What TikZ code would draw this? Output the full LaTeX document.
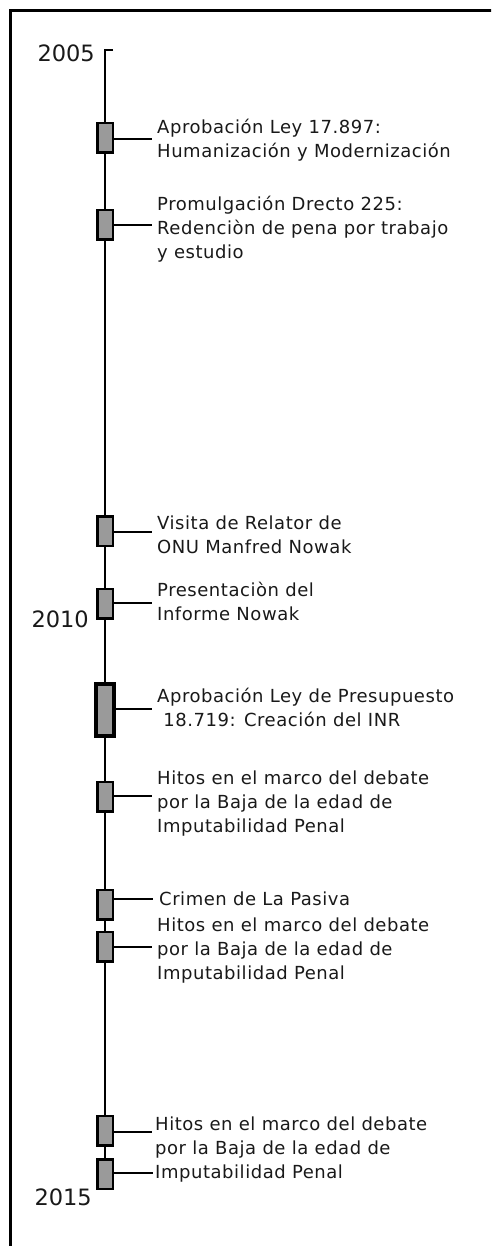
\documentclass[tikz,border=0pt]{standalone}
\usepackage{fontspec}
\setmainfont{DejaVu Sans}
\newfontfamily\lblfont[LetterSpace=3]{DejaVu Sans}
\definecolor{boxgray}{HTML}{9A9A9A}
\tikzset{
  evbox/.style={draw=black, line width=2.5pt, fill=boxgray, minimum width=15.5pt, minimum height=29.5pt, inner sep=0pt},
  bigbox/.style={evbox, line width=4pt, minimum width=18pt, minimum height=52pt},
  axis/.style={line width=2pt},
  conn/.style={line width=2.3pt},
  lbl/.style={font=\lblfont\fontsize{18}{24}\selectfont, align=left, inner sep=0pt, anchor=base west, text=black!90},
  year/.style={font=\fontsize{22.5}{24}\selectfont, inner sep=0pt, anchor=base east, text=black!90},
  frame/.style={line width=3pt}
}
\begin{document}
\begin{tikzpicture}[x=1pt,y=-1pt]
\useasboundingbox (0,0) rectangle (491,1246);
\begin{scope}
\clip (0,0) rectangle (491,1246);
\coordinate (fb) at (10.5,1260);
\coordinate (fc) at (10.5,10.5);
\coordinate (fr) at (500,10.5);
\draw[frame] (fb) -- (fc) -- (fr);
\end{scope}
% axis
\coordinate (axtop) at (105,50);
\coordinate (axbot) at (105,1190);
\coordinate (tick) at (113,50);
\draw[axis] (tick) -- (axtop) -- (axbot);
% years
\node[year] (y2005) at (95,62) {2005};
\node[year] (y2010) at (89,627) {2010};
\node[year] (y2015) at (92,1205) {2015};
% boxes
\node[evbox] (b1) at (105,138) {};
\node[evbox] (b2) at (105,225) {};
\node[evbox] (b3) at (105,531) {};
\node[evbox] (b4) at (105,603.5) {};
\node[bigbox] (b5) at (105,710) {};
\node[evbox] (b6) at (105,796.5) {};
\node[evbox] (b7) at (105,904.5) {};
\node[evbox] (b8) at (105,946.5) {};
\node[evbox] (b9) at (105,1130.5) {};
\node[evbox] (b10) at (105,1174) {};
% connector ends
\coordinate (c1) at (152,139);
\coordinate (c2) at (152,225);
\coordinate (c3) at (152,532);
\coordinate (c4) at (152,603);
\coordinate (c5) at (152,709);
\coordinate (c6) at (152,796);
\coordinate (c7) at (153,899);
\coordinate (c8) at (152,947);
\coordinate (c9) at (152,1132);
\coordinate (c10) at (153,1173);
\foreach \i in {1,...,10} {\draw[conn] (b\i.east |- c\i) -- (c\i);}
% labels (anchored at the baseline of their last line)
\node[lbl] (t1) at (157,158) {Aprobación Ley 17.897:\\Humanización y Modernización};
\node[lbl] (t2) at (157,259) {Promulgación Drecto 225:\\Redenciòn de pena por trabajo\\y estudio};
\node[lbl] (t3) at (157,553) {Visita de Relator de\\ONU Manfred Nowak};
\node[lbl] (t4) at (157,620) {Presentaciòn del\\Informe Nowak};
\node[lbl] (t5) at (157,726) {Aprobación Ley de Presupuesto\\\ 18.719: Creación del INR};
\node[lbl] (t6) at (157,832) {Hitos en el marco del debate\\por la Baja de la edad de\\Imputabilidad Penal};
\node[lbl] (t7) at (159,905) {Crimen de La Pasiva};
\node[lbl] (t8) at (157,979) {Hitos en el marco del debate\\por la Baja de la edad de\\Imputabilidad Penal};
\node[lbl] (t9) at (155,1178) {Hitos en el marco del debate\\por la Baja de la edad de\\Imputabilidad Penal};
\end{tikzpicture}
\end{document}
